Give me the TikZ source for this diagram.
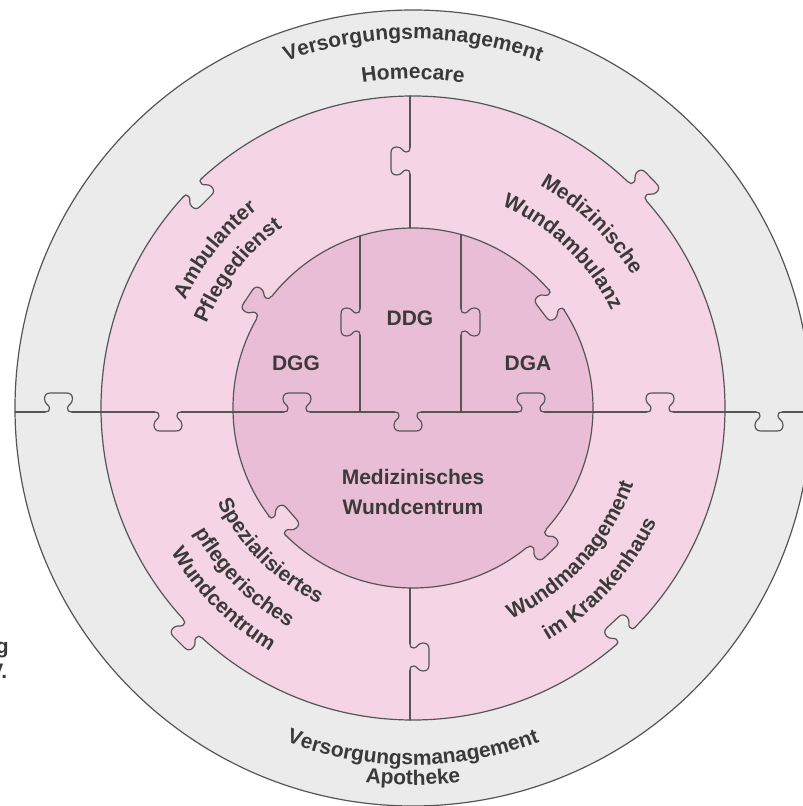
\documentclass[tikz,border=0pt]{standalone}
\usepackage{fontspec}
\setmainfont{Liberation Sans}
\usetikzlibrary{decorations.text}
\definecolor{cgrey}{HTML}{EBEBEB}
\definecolor{clpink}{HTML}{F5D5E5}
\definecolor{cdpink}{HTML}{EABDD6}
\definecolor{edgec}{HTML}{555555}
\definecolor{txt}{HTML}{3A3A3A}
\newcommand\lblfont{\fontsize{21}{25}\selectfont\bfseries}
\tikzset{
  edge/.style={draw=edgec, line width=1.2pt, line join=round, line cap=round},
  pics/ptab/.style={code={
    \fill[#1] (-13,-2.5) -- (-13,0) .. controls (-10,0) and (-9,1) .. (-9,4)
      .. controls (-9,7) and (-14,8) .. (-14,13)
      .. controls (-14,17) and (-12,19) .. (-8,19)
      -- (8,19)
      .. controls (12,19) and (14,17) .. (14,13)
      .. controls (14,8) and (9,7) .. (9,4)
      .. controls (9,1) and (10,0) .. (13,0) -- (13,-2.5) -- cycle;
    \draw[edge] (-13,0) .. controls (-10,0) and (-9,1) .. (-9,4)
      .. controls (-9,7) and (-14,8) .. (-14,13)
      .. controls (-14,17) and (-12,19) .. (-8,19)
      -- (8,19)
      .. controls (12,19) and (14,17) .. (14,13)
      .. controls (14,8) and (9,7) .. (9,4)
      .. controls (9,1) and (10,0) .. (13,0);
  }},
  arctext/.style={decorate, decoration={text along path, text={|\lblfont|#1}, text align=center, text color=txt}},
  lbl/.style={font=\lblfont, text=txt, inner sep=0pt},
}
\begin{document}
\begin{tikzpicture}[x=1pt,y=1pt]
\useasboundingbox (-413,-398) rectangle (390,408);
% rings
\filldraw[edge, fill=cgrey] (0,0) circle[radius=398];
\filldraw[edge, fill=clpink] (0,0) circle[radius=312];
\filldraw[edge, fill=cdpink] (0,0) circle[radius=180];
% dividing lines
\coordinate (hl) at (-398,-4);
\coordinate (hr) at (398,-4);
\draw[edge] (hl) -- (hr);
\coordinate (vt1) at (-3,180);
\coordinate (vt2) at (-3,312);
\draw[edge] (vt1) -- (vt2);
\coordinate (vb1) at (-3,-180);
\coordinate (vb2) at (-3,-312);
\draw[edge] (vb1) -- (vb2);
\coordinate (il1) at (-53,-4);
\coordinate (il2) at (-53,172);
\draw[edge] (il1) -- (il2);
\coordinate (ir1) at (48,-4);
\coordinate (ir2) at (48,173.5);
\draw[edge] (ir1) -- (ir2);
% tabs on straight lines
\pic[rotate=0] at (-354.5,-4) {ptab=cgrey};
\pic[rotate=180] at (-245,-4) {ptab=clpink};
\pic[rotate=0] at (-116,-4) {ptab=cdpink};
\pic[rotate=180] at (-5,-4) {ptab=cdpink};
\pic[rotate=0] at (118,-4) {ptab=cdpink};
\pic[rotate=0] at (247,-4) {ptab=clpink};
\pic[rotate=180] at (356,-4) {ptab=cgrey};
\pic[rotate=90] at (-3,247) {ptab=clpink};
\pic[rotate=-90] at (-3,-249) {ptab=clpink};
\pic[rotate=90] at (-53,86) {ptab=cdpink};
\pic[rotate=-90] at (48,86) {ptab=cdpink};
% tabs on circles
\pic[rotate=225] at (135:312) {ptab=cgrey};
\pic[rotate=-46] at (44:312) {ptab=clpink};
\pic[rotate=135] at (225:312) {ptab=clpink};
\pic[rotate=43] at (313:312) {ptab=cgrey};
\pic[rotate=56] at (146:180) {ptab=cdpink};
\pic[rotate=127] at (37:180) {ptab=clpink};
\pic[rotate=-49] at (221:180) {ptab=clpink};
\pic[rotate=223.5] at (313.5:180) {ptab=cdpink};
% outer ring texts
\path[arctext=Versorgungsmanagement] (135:369) arc[start angle=135, end angle=45, radius=369];
\path[arctext=Homecare] (135:329) arc[start angle=135, end angle=45, radius=329];
\path[arctext=Versorgungsmanagement] (225:357) arc[start angle=225, end angle=315, radius=357];
\path[arctext=Apotheke] (225:377) arc[start angle=225, end angle=315, radius=377];
% middle ring texts
\path[arctext=Ambulanter] (191.4:252) arc[start angle=191.4, end angle=91.4, radius=252];
\path[arctext=Pflegedienst] (191.8:223) arc[start angle=191.8, end angle=91.8, radius=223];
\path[arctext=Medizinische] (95.7:256) arc[start angle=95.7, end angle=-4.3, radius=256];
\path[arctext=Wundambulanz] (96.2:221) arc[start angle=96.2, end angle=-3.8, radius=221];
\path[arctext=Spezialisiertes] (175:217) arc[start angle=175, end angle=275, radius=217];
\path[arctext=pflegerisches] (175.1:252) arc[start angle=175.1, end angle=275.1, radius=252];
\path[arctext=Wundcentrum] (175.2:282) arc[start angle=175.2, end angle=275.2, radius=282];
\path[arctext=Wundmanagement] (268:233) arc[start angle=268, end angle=368, radius=233];
\path[arctext=im Krankenhaus] (267.5:269) arc[start angle=267.5, end angle=367.5, radius=269];
% inner texts
\node[lbl] (ddg) at (-3,90) {DDG};
\node[lbl] (dgg) at (-117,45) {DGG};
\node[lbl] (dga) at (115,45) {DGA};
\node[lbl, anchor=base] (mz) at (0,-76) {Medizinisches};
\node[lbl, anchor=base] (wc) at (0,-106) {Wundcentrum};
% cut-off side text
\node[lbl, anchor=base east] (og) at (-404,-245) {og};
\node[lbl, anchor=base east] (ev) at (-405.5,-270) {V.};
\end{tikzpicture}
\end{document}
